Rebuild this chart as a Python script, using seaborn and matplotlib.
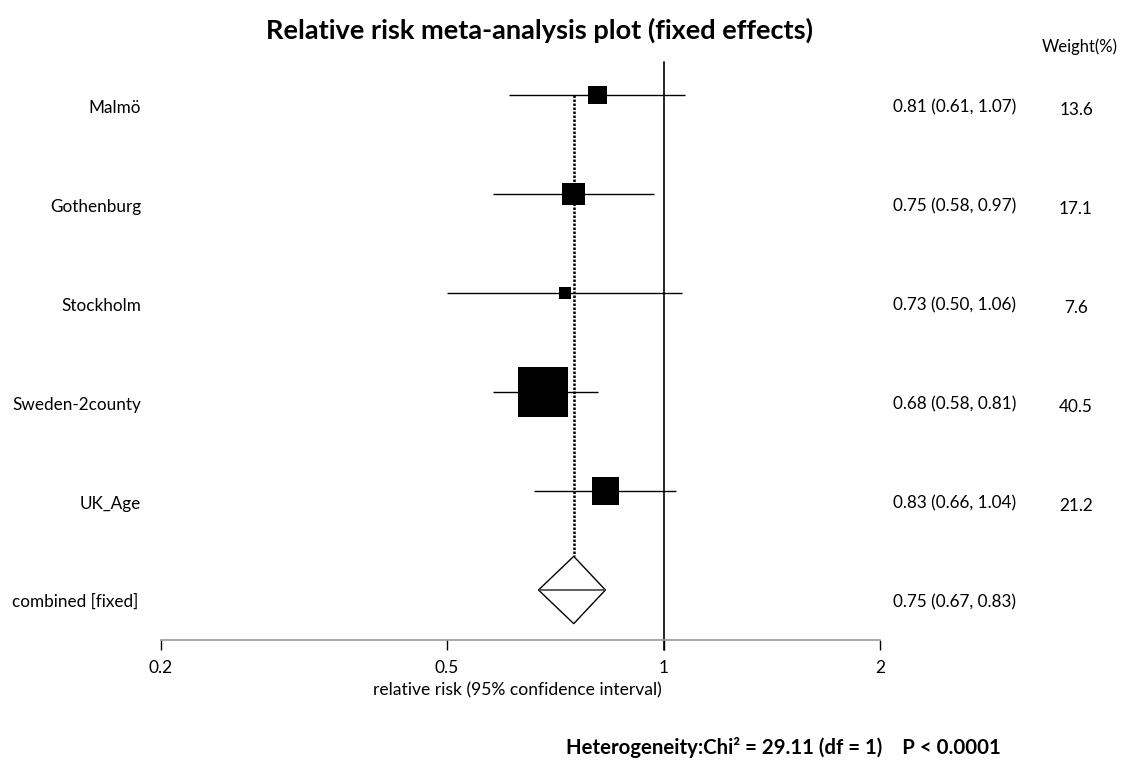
import matplotlib
matplotlib.use("Agg")
import matplotlib.pyplot as plt
import matplotlib.transforms as mtransforms
from matplotlib.ticker import FixedLocator, NullLocator, FixedFormatter
import seaborn as sns
import pandas as pd

# ---- data ----
studies = ["Malmö", "Gothenburg", "Stockholm", "Sweden-2county", "UK_Age"]
rr = [0.81, 0.75, 0.73, 0.68, 0.83]
ci_low = [0.61, 0.58, 0.50, 0.58, 0.66]
ci_high = [1.07, 0.97, 1.06, 0.81, 1.04]
weights = [13.6, 17.1, 7.6, 40.5, 21.2]
combined_label = "combined [fixed]"
combined_rr = 0.75
combined_low = 0.67
combined_high = 0.83
tick_values = [0.2, 0.5, 1, 2]
tick_labels = ["0.2", "0.5", "1", "2"]
title = "Relative risk meta-analysis plot (fixed effects)"
xlabel = "relative risk (95% confidence interval)"
hetero = "Heterogeneity:Chi² = 29.11 (df = 1)    P < 0.0001"

# ---- style ----
sns.set_theme(style="white")
plt.rcParams["font.family"] = ["Lato", "DejaVu Sans"]
plt.rcParams["text.color"] = "black"
plt.rcParams["xtick.color"] = "black"
plt.rcParams["xtick.labelcolor"] = "black"
FS = 12.3

W, H = 1135, 763
DPI = 100
fig = plt.figure(figsize=(W / DPI, H / DPI), dpi=DPI)
ax = fig.add_axes([161 / W, (H - 640) / H, (880 - 161) / W, (640 - 62) / H])
ax.set_xscale("log")
ax.set_xlim(0.2, 2)
ax.set_ylim(5.505, -0.333)

rows = list(range(len(studies)))
df = pd.DataFrame({"study": studies, "rr": rr, "lo": ci_low, "hi": ci_high,
                   "w": weights, "row": rows})

# confidence interval lines
ax.hlines(df["row"], df["lo"], df["hi"], color="black", lw=1.0, zorder=2)

# vertical reference line at 1 (extends to tick ends)
ax.axvline(1, ymin=-10 / 578, ymax=1, color="black", lw=1.2, clip_on=False, zorder=1)

# dotted line at combined estimate
ax.vlines(combined_rr, rows[0], len(studies) - 0.34, color="black", lw=1.8,
          linestyles=(0, (1, 0.6)), zorder=1)

# squares (side in px grows with weight)
side_pt = [(3.2 + 1.155 * w) * 72 / DPI for w in weights]
sns.scatterplot(data=df, x="rr", y="row", marker="s", color="black",
                s=[s ** 2 for s in side_pt], edgecolor="none", linewidth=0,
                legend=False, ax=ax, zorder=3)

# diamond for combined
crow = len(studies)
half_h = 0.34
ax.fill([combined_low, combined_rr, combined_high, combined_rr, combined_low],
        [crow, crow - half_h, crow, crow + half_h, crow],
        facecolor="white", edgecolor="black", lw=1.0, zorder=3)
ax.hlines(crow, combined_low, combined_high, color="#444444", lw=1.2, zorder=4)

# axes styling
for s in ["left", "right", "top"]:
    ax.spines[s].set_visible(False)
ax.spines["bottom"].set_color("#9a9a9a")
ax.spines["bottom"].set_linewidth(1.2)
ax.xaxis.set_major_locator(FixedLocator(tick_values))
ax.xaxis.set_major_formatter(FixedFormatter(tick_labels))
ax.xaxis.set_minor_locator(NullLocator())
ax.tick_params(axis="x", which="major", direction="out", length=7.5, width=1.0,
               color="black", labelcolor="black", pad=7, labelsize=12.5,
               bottom=True)
ax.set_yticks([])
ax.set_xlabel("")
ax.set_ylabel("")

# text columns
trans = mtransforms.blended_transform_factory(fig.transFigure, ax.transData)
for i, name in enumerate(studies):
    fig.text(141 / W, rows[i] + 0.13, name, transform=trans,
             ha="right", va="center", fontsize=FS)
    fig.text(893 / W, rows[i] + 0.13,
             f"{rr[i]:.2f} ({ci_low[i]:.2f}, {ci_high[i]:.2f})",
             transform=trans, ha="left", va="center", fontsize=FS)
    fig.text(1076 / W, rows[i] + 0.15, f"{weights[i]:.1f}", transform=trans,
             ha="center", va="center", fontsize=FS)
fig.text(12 / W, crow + 0.12, combined_label, transform=trans,
         ha="left", va="center", fontsize=FS)
fig.text(893 / W, crow + 0.12,
         f"{combined_rr:.2f} ({combined_low:.2f}, {combined_high:.2f})",
         transform=trans, ha="left", va="center", fontsize=FS)

fig.text(1080 / W, 1 - 47 / H, "Weight(%)", ha="center", va="center", fontsize=12)
fig.text(540 / W, 1 - 30 / H, title, ha="center", va="center", fontsize=19.5,
         fontweight="bold")
fig.text(517 / W, 1 - 690 / H, xlabel, ha="center", va="center", fontsize=12.6)
fig.text(783 / W, 1 - 747 / H, hetero, ha="center", va="center", fontsize=14.7,
         fontweight="bold")

fig.savefig("out.png", dpi=DPI, facecolor="white")
